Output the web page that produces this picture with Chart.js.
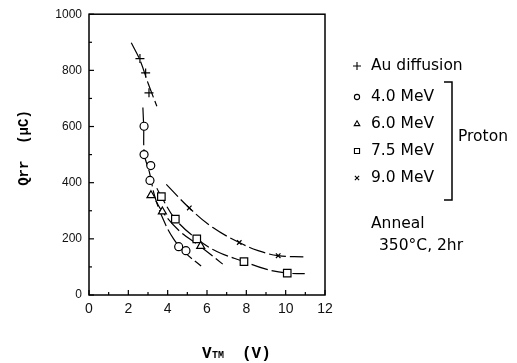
<!DOCTYPE html>
<html>
<head>
<meta charset="utf-8">
<script src="https://cdn.jsdelivr.net/npm/chart.js@4/dist/chart.umd.min.js"></script>
<style>
  html, body { margin: 0; background: #fff; }
  #wrap { width: 517px; height: 363px; }
</style>
</head>
<body>
<div id="wrap"><canvas id="chart" width="517" height="363"></canvas></div>
<script>
/* Dados - pontos medidos */
const auX = [2.59, 2.88, 3.05];
const auY = [842, 791, 720];
const mev4X = [2.80, 2.80, 3.14, 3.10, 4.56, 4.93];
const mev4Y = [601, 500, 461, 408, 172, 158];
const mev6X = [3.15, 3.73, 5.68];
const mev6Y = [355, 297, 174];
const mev75X = [3.68, 4.39, 5.48, 7.88, 10.08];
const mev75Y = [350, 270, 200, 119, 78];
const mev9X = [5.10, 7.64, 9.62];
const mev9Y = [310, 187, 140];

/* Curvas desenhadas a mao */
const curveAuX = [2.15, 2.6, 3.0, 3.45];
const curveAuY = [898, 835, 755, 672];
const curve4X = [2.74, 2.78, 2.82, 3.08, 3.35, 3.8, 4.3, 4.9, 5.7];
const curve4Y = [668, 600, 500, 435, 350, 265, 200, 150, 103];
const curve6X = [3.4, 3.73, 4.6, 5.68, 6.8];
const curve6Y = [335, 297, 228, 172, 110];
const curve75X = [3.45, 3.68, 4.39, 5.48, 6.5, 7.88, 9.0, 10.08, 10.97];
const curve75Y = [380, 350, 270, 200, 155, 119, 92, 78, 76];
const curve9X = [3.93, 5.1, 6.3, 7.64, 8.6, 9.62, 10.9];
const curve9Y = [394, 310, 240, 187, 158, 140, 136];

/* Eixos */
const xTicks = [0, 2, 4, 6, 8, 10, 12];
const yTicks = [0, 200, 400, 600, 800, 1000];
const xMinorStep = 1;
const yMinorStep = 100;

const legendLabels = ['Au diffusion', '4.0 MeV', '6.0 MeV', '7.5 MeV', '9.0 MeV'];

const pts = (xs, ys) => xs.map((x, i) => ({ x, y: ys[i] }));

function markers(label, xs, ys, style, radius) {
  return {
    label, data: pts(xs, ys), showLine: false,
    pointStyle: style, pointRadius: radius,
    borderColor: '#000', backgroundColor: '#fff', pointBorderWidth: 1.2
  };
}
function curve(xs, ys) {
  return {
    data: pts(xs, ys), showLine: true, pointRadius: 0,
    borderColor: '#000', borderWidth: 1.2, borderDash: [17, 4],
    tension: 0.4, fill: false
  };
}

const decor = {
  id: 'decor',
  afterDraw(chart) {
    const { ctx, chartArea: a, scales: { x, y } } = chart;
    const line = (x1, y1, x2, y2) => { ctx.beginPath(); ctx.moveTo(x1, y1); ctx.lineTo(x2, y2); ctx.stroke(); };
    ctx.save();
    ctx.strokeStyle = '#000';
    ctx.fillStyle = '#000';
    ctx.lineWidth = 1.5;
    ctx.strokeRect(a.left, a.top, a.right - a.left, a.bottom - a.top);

    // ticks para dentro
    ctx.lineWidth = 1.2;
    for (let v = x.min; v <= x.max; v += xMinorStep) {
      const px = x.getPixelForValue(v);
      line(px, a.bottom, px, a.bottom - (xTicks.includes(v) ? 5 : 3));
    }
    for (let v = y.min; v <= y.max; v += yMinorStep) {
      const py = y.getPixelForValue(v);
      line(a.left, py, a.left + (yTicks.includes(v) ? 5 : 3), py);
    }

    // titulos
    ctx.font = 'bold 14px "Liberation Mono"';
    ctx.textBaseline = 'middle';
    ctx.textAlign = 'center';
    ctx.save();
    ctx.translate(24, 148);
    ctx.rotate(-Math.PI / 2);
    ctx.fillText('Qrr  (\u03bcC)', 0, 0);
    ctx.restore();

    ctx.textAlign = 'left';
    ctx.textBaseline = 'alphabetic';
    ctx.font = 'bold 16px "Liberation Mono"';
    ctx.fillText('V', 202, 358);
    ctx.font = 'bold 10px "Liberation Mono"';
    ctx.fillText('TM', 212, 358);
    ctx.font = 'bold 16px "Liberation Mono"';
    ctx.fillText('(V)', 242, 358);

    // legenda
    const rowY = [66, 97, 124, 151, 178];
    const styles = [
      { pointStyle: 'cross', radius: 4 },
      { pointStyle: 'circle', radius: 2.6 },
      { pointStyle: 'triangle', radius: 3.2 },
      { pointStyle: 'rect', radius: 3.6 },
      { pointStyle: 'crossRot', radius: 3 }
    ];
    ctx.font = '15.5px "DejaVu Sans"';
    ctx.textBaseline = 'middle';
    legendLabels.forEach((t, i) => {
      ctx.lineWidth = 1.1;
      ctx.strokeStyle = '#000';
      ctx.fillStyle = '#fff';
      Chart.helpers.drawPoint(ctx, { ...styles[i], rotation: 0, borderWidth: 1.1 }, 357, rowY[i]);
      ctx.fillStyle = '#000';
      ctx.fillText(t, 371, rowY[i]);
    });

    // colchete "Proton"
    ctx.lineWidth = 1.5;
    ctx.beginPath();
    ctx.moveTo(444, 82); ctx.lineTo(452, 82); ctx.lineTo(452, 200); ctx.lineTo(444, 200);
    ctx.stroke();
    ctx.fillText('Proton', 458, 137);

    ctx.fillText('Anneal', 371, 224);
    ctx.fillText('350\u00b0C, 2hr', 379, 246);
    ctx.restore();
  }
};

new Chart(document.getElementById('chart'), {
  type: 'scatter',
  data: {
    datasets: [
      markers('Au diffusion', auX, auY, 'cross', 4.5),
      markers('4.0 MeV', mev4X, mev4Y, 'circle', 4),
      markers('6.0 MeV', mev6X, mev6Y, 'triangle', 4.6),
      markers('7.5 MeV', mev75X, mev75Y, 'rect', 5.3),
      markers('9.0 MeV', mev9X, mev9Y, 'crossRot', 3.2),
      curve(curveAuX, curveAuY),
      curve(curve4X, curve4Y),
      curve(curve6X, curve6Y),
      curve(curve75X, curve75Y),
      curve(curve9X, curve9Y)
    ]
  },
  options: {
    responsive: false,
    animation: false,
    devicePixelRatio: 1,
    layout: { padding: { left: 0, top: 14, right: 192, bottom: 0 } },
    plugins: { legend: { display: false }, tooltip: { enabled: false } },
    scales: {
      x: {
        type: 'linear', min: 0, max: 12,
        afterFit: s => { s.height = 68; },
        afterBuildTicks: s => { s.ticks = xTicks.map(v => ({ value: v })); },
        ticks: { color: '#111', padding: 6, font: { family: 'Liberation Sans', size: 14 }, callback: v => String(v) },
        grid: { display: false, drawTicks: false },
        border: { display: false }
      },
      y: {
        type: 'linear', min: 0, max: 1000,
        afterFit: s => { s.width = 89; },
        afterBuildTicks: s => { s.ticks = yTicks.map(v => ({ value: v })); },
        ticks: { color: '#111', padding: 7, font: { family: 'Liberation Sans', size: 12 }, callback: v => String(v) },
        grid: { display: false, drawTicks: false },
        border: { display: false }
      }
    }
  },
  plugins: [decor]
});
</script>
</body>
</html>
